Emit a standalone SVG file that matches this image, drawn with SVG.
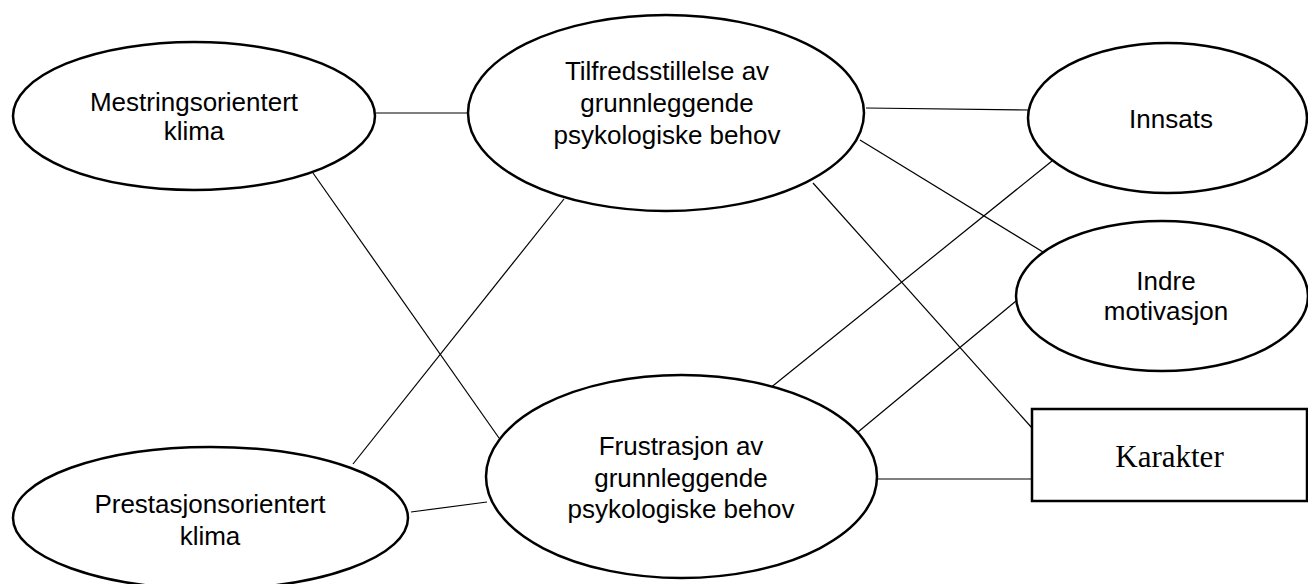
<svg xmlns="http://www.w3.org/2000/svg" width="1308" height="584" viewBox="0 0 1308 584">
<style>
.n{fill:#fff;stroke:#000;stroke-width:2.5}
.t{font-family:"Liberation Sans",Arial,sans-serif;font-size:26px;fill:#000;text-anchor:middle}
.k{font-family:"Liberation Serif","Times New Roman",serif;font-size:31px;fill:#000;text-anchor:middle}
.c line{stroke:#000;stroke-width:1.2}
</style>
<rect width="1308" height="584" fill="#fff"/>
<g id="connectors" class="c">
<line x1="376" y1="113" x2="468" y2="113"/>
<line x1="313" y1="173" x2="499" y2="438"/>
<line x1="353" y1="464" x2="564" y2="199"/>
<line x1="411" y1="512" x2="487" y2="502"/>
<line x1="866" y1="108" x2="1030" y2="110"/>
<line x1="860" y1="140" x2="1043" y2="252"/>
<line x1="813" y1="183" x2="1032" y2="428"/>
<line x1="769" y1="389" x2="1052" y2="161"/>
<line x1="858" y1="432" x2="1016" y2="301"/>
<line x1="878" y1="479" x2="1032" y2="479"/>
</g>
<g id="mestring">
<ellipse class="n" cx="194" cy="116" rx="181" ry="74"/>
<text class="t" x="194" y="111">Mestringsorientert</text>
<text class="t" x="194" y="140">klima</text>
</g>
<g id="tilfredsstillelse">
<ellipse class="n" cx="666" cy="113" rx="198" ry="98"/>
<text class="t" x="667" y="80">Tilfredsstillelse av</text>
<text class="t" x="667" y="112">grunnleggende</text>
<text class="t" x="667" y="144">psykologiske behov</text>
</g>
<g id="innsats">
<ellipse class="n" cx="1167.5" cy="118" rx="139.5" ry="75"/>
<text class="t" x="1171" y="128">Innsats</text>
</g>
<g id="indre">
<ellipse class="n" cx="1162" cy="296" rx="146" ry="75"/>
<text class="t" x="1166" y="290">Indre</text>
<text class="t" x="1166" y="320">motivasjon</text>
</g>
<g id="prestasjon">
<ellipse class="n" cx="210.5" cy="518" rx="197.5" ry="71"/>
<text class="t" x="210" y="513">Prestasjonsorientert</text>
<text class="t" x="210" y="545">klima</text>
</g>
<g id="frustrasjon">
<ellipse class="n" cx="681.5" cy="476.5" rx="195.5" ry="101.5"/>
<text class="t" x="681" y="455">Frustrasjon av</text>
<text class="t" x="681" y="487">grunnleggende</text>
<text class="t" x="681" y="518">psykologiske behov</text>
</g>
<g id="karakter">
<rect class="n" x="1032" y="409" width="275" height="92" stroke-width="2.2"/>
<text class="k" x="1169.5" y="467">Karakter</text>
</g>
</svg>
